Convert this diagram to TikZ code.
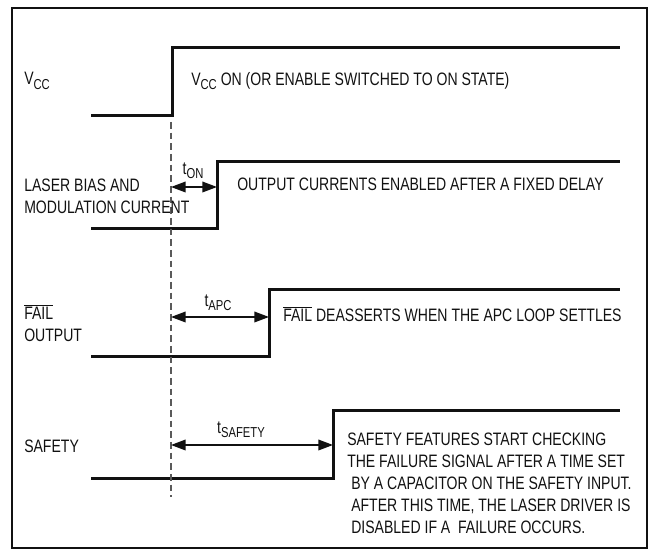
\documentclass[tikz,border=0pt]{standalone}
\usepackage{fontspec}
\setmainfont{Liberation Sans}[FakeStretch=0.78]
\usetikzlibrary{arrows.meta,calc,positioning}
\definecolor{ink}{HTML}{111111}
\definecolor{dashgray}{HTML}{5A5A5A}
\newcommand{\lowsub}[1]{\raisebox{-0.45ex}{\fontsize{10.8}{12}\selectfont #1}}
\newcommand{\failbar}{$\overline{\mbox{FAIL}}$}
\tikzset{
  frame/.style={draw=ink,line width=1.5pt},
  wave/.style={draw=ink,line width=2.25pt,line join=miter},
  refline/.style={draw=dashgray,line width=0.8pt,dash pattern=on 5pt off 3pt},
  timing/.style={{Triangle[length=11pt,width=8pt]}-{Triangle[length=11pt,width=8pt]},draw=ink,line width=1.1pt},
  sig/.style={anchor=west,font=\fontsize{13.5}{16.4}\selectfont,align=left,inner sep=0pt,text=ink},
  tlab/.style={font=\fontsize{13.5}{16}\selectfont,inner sep=0pt,text=ink}
}

\begin{document}
\begin{tikzpicture}[x=0.75pt,y=-0.75pt]
  \useasboundingbox (0,0) rectangle (651,555);
  \draw[frame] (12,8.5) rectangle (647,548);

  % waveforms: low level, rise, high level
  \foreach \nm/\lo/\hi/\xr in {vcc/116/48/172,las/229/162/217,fail/357/290/269,saf/479/411/333} {
    \coordinate (\nm-low) at (91,\lo);
    \coordinate (\nm-rise) at (\xr,\lo);
    \coordinate (\nm-up) at (\xr,\hi);
    \coordinate (\nm-end) at (620,\hi);
    \draw[wave] (\nm-low) -- (\nm-rise) -- (\nm-up) -- (\nm-end);
  }

  % reference instant
  \coordinate (t0) at (171,122);
  \coordinate (t0-end) at (171,497);
  \draw[refline] (t0) -- (t0-end);

  % delays
  \foreach \nm/\ay in {las/187,fail/317,saf/445} {
    \coordinate (\nm-t) at (171,\ay);
    \draw[timing] (\nm-t) -- (\nm-t -| \nm-up);
  }
  \node[tlab] (ton) at (193,171) {t\lowsub{ON}};
  \node[tlab] (tapc) at (218,303) {t\lowsub{APC}};
  \node[tlab] (tsafe) at (241,430) {t\lowsub{SAFETY}};

  % signal names
  \node[sig] (vccname) at (24,81) {V\lowsub{CC}};
  \node[sig] (lasname) at (24,196) {LASER BIAS AND\\MODULATION CURRENT};
  \node[sig] (failname) at (24,323) {\failbar\\OUTPUT};
  \node[sig] (safname) at (24,446) {SAFETY};

  % notes
  \node[sig] (vccnote) at (191,81) {V\lowsub{CC} ON (OR ENABLE SWITCHED TO ON STATE)};
  \node[sig] (lasnote) at (237,184) {OUTPUT CURRENTS ENABLED AFTER A FIXED DELAY};
  \node[sig] (failnote) at (283,314) {\failbar{} DEASSERTS WHEN THE APC LOOP SETTLES};
  \node[sig] (safnote) at (347,483.5) {SAFETY FEATURES START CHECKING\\
    THE FAILURE SIGNAL AFTER A TIME SET\\
    \hspace*{3pt}BY A CAPACITOR ON THE SAFETY INPUT.\\
    \hspace*{3pt}AFTER THIS TIME, THE LASER DRIVER IS\\
    \hspace*{3pt}DISABLED IF A \ FAILURE OCCURS.};
\end{tikzpicture}
\end{document}
